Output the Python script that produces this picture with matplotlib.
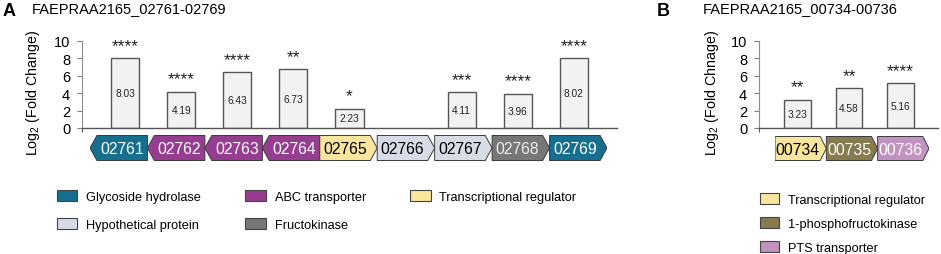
import matplotlib
matplotlib.use("Agg")
import matplotlib.pyplot as plt
from matplotlib.patches import Polygon, Patch

plt.rcParams['font.family'] = ['Liberation Sans', 'DejaVu Sans']
plt.rcParams['mathtext.fontset'] = 'custom'
plt.rcParams['mathtext.rm'] = 'Liberation Sans'
plt.rcParams['mathtext.it'] = 'Liberation Sans'

# ---------------- data ----------------
genes_a = ["02761", "02762", "02763", "02764", "02765", "02766", "02767", "02768", "02769"]
values_a = [8.03, 4.19, 6.43, 6.73, 2.23, None, 4.11, 3.96, 8.02]
stars_a = ["****", "****", "****", "**", "*", "", "***", "****", "****"]
func_a = ["Glycoside hydrolase", "ABC transporter", "ABC transporter", "ABC transporter",
          "Transcriptional regulator", "Hypothetical protein", "Hypothetical protein",
          "Fructokinase", "Glycoside hydrolase"]
dir_a = [-1, -1, -1, -1, 1, 1, 1, 1, 1]

genes_b = ["00734", "00735", "00736"]
values_b = [3.23, 4.58, 5.16]
stars_b = ["**", "**", "****"]
func_b = ["Transcriptional regulator", "1-phosphofructokinase", "PTS transporter"]
dir_b = [1, 1, 1]

legend_a = ["Glycoside hydrolase", "Hypothetical protein", "ABC transporter",
            "Fructokinase", "Transcriptional regulator"]
legend_b = ["Transcriptional regulator", "1-phosphofructokinase", "PTS transporter"]

title_a = "FAEPRAA2165_02761-02769"
title_b = "FAEPRAA2165_00734-00736"
ylabel_a = "Log$_2$ (Fold Change)"
ylabel_b = "Log$_2$ (Fold Chnage)"
yticks = [0, 2, 4, 6, 8, 10]

colors = {
    "Glycoside hydrolase": "#176F8F",
    "ABC transporter": "#973D91",
    "Transcriptional regulator": "#F9E59C",
    "Hypothetical protein": "#D7DCE6",
    "Fructokinase": "#777777",
    "1-phosphofructokinase": "#877C4E",
    "PTS transporter": "#C293C0",
}
text_colors = {
    "Glycoside hydrolase": "white",
    "ABC transporter": "white",
    "Transcriptional regulator": "black",
    "Hypothetical protein": "black",
    "Fructokinase": "#EEEEEE",
    "1-phosphofructokinase": "white",
    "PTS transporter": "white",
}

W, H = 941, 255
fig = plt.figure(figsize=(W / 100, H / 100), dpi=100)


def px_axes(x0, x1, ytop, ybot):
    return fig.add_axes([x0 / W, 1 - ybot / H, (x1 - x0) / W, (ybot - ytop) / H])


def bar_panel(ax, values, stars, xlim, width, ylabel, label_x):
    xs = list(range(len(values)))
    for x, v, s in zip(xs, values, stars):
        if v is None:
            continue
        ax.bar(x, v, width=width, color="#F2F2F2", edgecolor="#555555", linewidth=1.0, zorder=2)
        ax.text(x, v / 2, f"{v:.2f}", ha="center", va="center", fontsize=7.3, color="#222222", zorder=3)
        ax.annotate(s, (x, v), xytext=(0, 6.0), textcoords="offset points",
                    ha="center", va="baseline", fontsize=12.5, color="#222222",
                    annotation_clip=False)
    ax.set_xlim(*xlim)
    ax.set_ylim(0, 10)
    ax.set_yticks(yticks)
    ax.tick_params(axis="y", labelsize=10.5, length=3.5, width=0.8, color="#7F7F7F", pad=5)
    ax.set_xticks([xlim[0]])
    ax.set_xticklabels([""])
    ax.tick_params(axis="x", length=3, width=0.8, color="#555555")
    for sp in ("top", "right"):
        ax.spines[sp].set_visible(False)
    ax.spines["left"].set_color("#8C8C8C")
    ax.spines["left"].set_linewidth(0.8)
    ax.spines["bottom"].set_color("#555555")
    ax.spines["bottom"].set_linewidth(1.0)
    ax.set_ylabel(ylabel, fontsize=10.3)
    ax.yaxis.set_label_coords(label_x, 0.42)
    ax.patch.set_visible(False)


def gene_row(ax, genes, funcs, dirs):
    t = 0.12
    for i, (g, f, d) in enumerate(zip(genes, funcs, dirs)):
        if d > 0:
            pts = [(i, 0), (i + 1 - t, 0), (i + 1, 0.5), (i + 1 - t, 1), (i, 1)]
            cx = i + (1 - t) / 2
        else:
            pts = [(i + t, 0), (i + 1, 0), (i + 1, 1), (i + t, 1), (i, 0.5)]
            cx = i + t + (1 - t) / 2
        ax.add_patch(Polygon(pts, closed=True, facecolor=colors[f], edgecolor="#3A3A3A", linewidth=0.7))
        ax.text(cx, 0.47, g, ha="center", va="center", fontsize=11.3, color=text_colors[f])
    ax.set_xlim(0, len(genes))
    ax.set_ylim(-0.02, 1.02)
    ax.axis("off")


# Panel A
axA = px_axes(82, 617, 42, 129)
bar_panel(axA, values_a, stars_a, (-0.77, 8.77), 0.5, ylabel_a, -0.075)
gA = px_axes(90, 607, 136, 162)
gene_row(gA, genes_a, func_a, dir_a)

# Panel B
axB = px_axes(759, 938, 42, 129)
bar_panel(axB, values_b, stars_b, (-0.75, 2.73), 0.52, ylabel_b, -0.21)
gB = px_axes(775, 929, 137, 162)
gene_row(gB, genes_b, func_b, dir_b)

# Titles
fig.text(3 / W, 1 - 12 / H, "A", fontsize=13, fontweight="bold", ha="left", va="center")
fig.text(32 / W, 1 - 9 / H, title_a, fontsize=10.5, ha="left", va="center")
fig.text(657 / W, 1 - 12 / H, "B", fontsize=13, fontweight="bold", ha="left", va="center")
fig.text(703 / W, 1 - 9 / H, title_b, fontsize=10.5, ha="left", va="center")

# Legends
hA = [Patch(facecolor=colors[l], edgecolor="#444444", linewidth=0.8) for l in legend_a]
fig.legend(hA, legend_a, ncol=3, loc="upper left", bbox_to_anchor=(57 / W, 1 - 191 / H),
           frameon=False, borderpad=0, borderaxespad=0, handlelength=1.6, handleheight=0.95,
           handletextpad=0.7, columnspacing=3.45, labelspacing=1.2, fontsize=9.2)
hB = [Patch(facecolor=colors[l], edgecolor="#444444", linewidth=0.8) for l in legend_b]
fig.legend(hB, legend_b, ncol=1, loc="upper left", bbox_to_anchor=(760 / W, 1 - 194 / H),
           frameon=False, borderpad=0, borderaxespad=0, handlelength=1.5, handleheight=0.9,
           handletextpad=0.7, labelspacing=0.9, fontsize=9.2)

fig.savefig("out.png", dpi=100)
